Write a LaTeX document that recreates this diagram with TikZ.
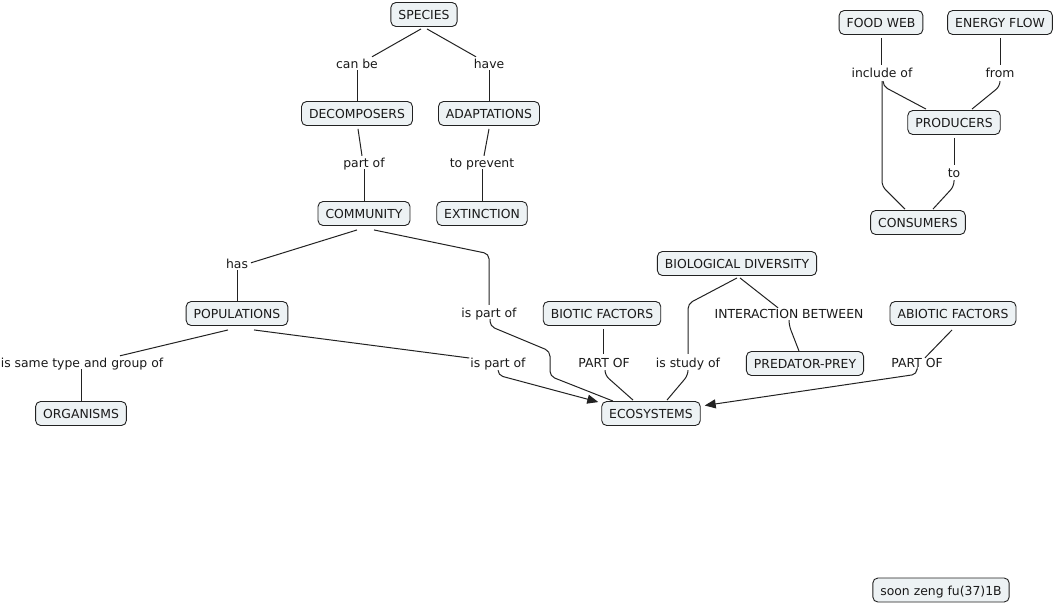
\documentclass[tikz,border=0pt]{standalone}
\usepackage{fontspec}
\setmainfont{DejaVu Sans}
\usetikzlibrary{calc,arrows.meta}
\definecolor{boxfill}{HTML}{EDF2F4}
\definecolor{textc}{HTML}{1A1A1A}
\definecolor{linec}{HTML}{222222}
\begin{document}
\begin{tikzpicture}[x=1pt,y=-1pt,
  font=\fontsize{12.4}{14}\selectfont,
  concept/.style={draw=linec, fill=boxfill, rounded corners=5pt, line width=0.9pt,
    inner xsep=7.5pt, inner ysep=0pt, minimum height=24pt, text height=10pt, text depth=0pt, text=textc},
  phrase/.style={inner sep=1pt, text height=10pt, text depth=0pt, text=textc},
  link/.style={draw=linec, line width=1pt, rounded corners=5pt},
  arr/.style={link, -{Triangle[length=11pt,width=9pt]}}]
\fill[white] (0,0) rectangle (1054,606);
\useasboundingbox (0,0) rectangle (1054,606);

% concepts
\node[concept] (species) at (424,14.5) {SPECIES};
\node[concept] (decomp) at (357,113.5) {DECOMPOSERS};
\node[concept] (adapt) at (489,113.5) {ADAPTATIONS};
\node[concept] (comm) at (364,213.5) {COMMUNITY};
\node[concept] (ext) at (482,213.5) {EXTINCTION};
\node[concept] (foodweb) at (881,22.5) {FOOD WEB};
\node[concept] (energy) at (1000,22.5) {ENERGY FLOW};
\node[concept] (prod) at (954,122.5) {PRODUCERS};
\node[concept] (cons) at (918,222.5) {CONSUMERS};
\node[concept] (biodiv) at (737,263.5) {BIOLOGICAL DIVERSITY};
\node[concept] (pop) at (237,313.5) {POPULATIONS};
\node[concept] (biotic) at (602,313.5) {BIOTIC FACTORS};
\node[concept] (abiotic) at (953,313.5) {ABIOTIC FACTORS};
\node[concept] (pred) at (805,363.5) {PREDATOR-PREY};
\node[concept] (org) at (81,413.5) {ORGANISMS};
\node[concept] (eco) at (651,413.5) {ECOSYSTEMS};
\node[concept] (author) at (941,590) {soon zeng fu(37)1B};

% linking phrases
\node[phrase] (canbe) at (357,63) {can be};
\node[phrase] (have) at (489,63) {have};
\node[phrase] (partofd) at (364,162) {part of};
\node[phrase] (toprev) at (482,162) {to prevent};
\node[phrase] (include) at (882,72) {include of};
\node[phrase] (from) at (1000,72) {from};
\node[phrase] (to) at (954,172) {to};
\node[phrase] (has) at (237,263) {has};
\node[phrase] (ispartofa) at (489,312) {is part of};
\node[phrase] (inter) at (789,313) {INTERACTION BETWEEN};
\node[phrase] (issame) at (82,362) {is same type and group of};
\node[phrase] (ispartofb) at (498,362) {is part of};
\node[phrase] (partofb) at (604,362) {PART OF};
\node[phrase] (isstudy) at (688,362) {is study of};
\node[phrase] (partofa) at (917,362) {PART OF};

% connectors
\draw[link] ($(species.south)+(-3,2)$) -- ($(canbe.north)+(15,0)$);
\draw[link] ($(canbe.south)+(0,1)$) -- (decomp.north);
\draw[link] ($(species.south)+(3,2)$) -- ($(have.north)+(-13,0)$);
\draw[link] ($(have.south)+(0,1)$) -- (adapt.north);
\draw[link] ($(decomp.south)+(1,3)$) -- ($(partofd.north)+(-2,0)$);
\draw[link] ($(partofd.south)+(0,1)$) -- (comm.north);
\draw[link] ($(adapt.south)+(0,3)$) -- ($(toprev.north)+(2,0)$);
\draw[link] ($(toprev.south)+(0,1)$) -- (ext.north);

\draw[link] ($(comm.south)+(-7,4)$) -- ($(has.north)+(14,6)$);
\draw[link] ($(has.south)+(0,1)$) -- (pop.north);
\draw[link] ($(comm.south)+(10,4)$) -- ($(ispartofa.north)+(0,-52)$) -- ($(ispartofa.north)+(0,-1)$);
\draw[link] ($(ispartofa.south)+(1,1)$) -- ($(ispartofa.south)+(1,8)$) -- ($(ispartofa.south)+(61,33)$)
  -- ($(ispartofa.south)+(61,58)$) -- ($(eco.north)+(-38,0)$);

\draw[link] ($(pop.south)+(-9,4)$) -- ($(issame.north)+(38,0)$);
\draw[link] ($(issame.south)+(-1,1)$) -- (org.north);
\draw[link] ($(pop.south)+(17,4)$) -- ($(ispartofb.west)+(0,-4)$);
\draw[arr] ($(ispartofb.south)+(0,2)$) -- ($(ispartofb.south)+(0,7)$) -- ($(eco.north west)+(-3,1)$);

\draw[link] ($(biotic.south)+(1,3)$) -- ($(partofb.north)+(-1,-2)$);
\draw[link] ($(partofb.south)+(1,2)$) -- ($(partofb.south)+(1,7)$) -- ($(eco.north)+(-18,-1)$);

\draw[link] ($(biodiv.south)+(0,2)$) -- ($(isstudy.north)+(0,-52)$) -- ($(isstudy.north)+(0,-2)$);
\draw[link] ($(isstudy.south)+(0,2)$) -- ($(isstudy.south)+(0,7)$) -- ($(eco.north)+(16,-1)$);
\draw[link] ($(biodiv.south)+(3,2)$) -- ($(inter.north)+(-11,1)$);
\draw[link] ($(inter.south)+(0,2)$) -- ($(inter.south)+(0,6)$) -- ($(pred.north)+(-6,0)$);

\draw[link] ($(abiotic.south)+(-1,4)$) -- ($(partofa.north)+(8,2)$);
\draw[arr] ($(partofa.south)+(0,2)$) -- ($(partofa.south)+(0,6)$) -- ($(eco.east)+(4,-8)$);

\draw[link] ($(foodweb.south)+(0,3)$) -- ($(include.north)+(-1,-1)$);
\draw[link] ($(include.south)+(1,3)$) -- ($(include.south)+(1,8)$) -- ($(prod.north)+(-28,-1)$);
\draw[link] ($(include.south)+(0,3)$) -- ($(include.south)+(0,108)$) -- ($(cons.north)+(-13,-1)$);
\draw[link] ($(energy.south)+(0,3)$) -- ($(from.north)+(0,-1)$);
\draw[link] ($(from.south)+(0,3)$) -- ($(from.south)+(0,8)$) -- ($(prod.north)+(18,-1)$);
\draw[link] ($(prod.south)+(0,3)$) -- ($(to.north)+(0,-1)$);
\draw[link] ($(to.south)+(0,2)$) -- ($(to.south)+(0,8)$) -- ($(cons.north)+(15,-1)$);
\end{tikzpicture}
\end{document}
